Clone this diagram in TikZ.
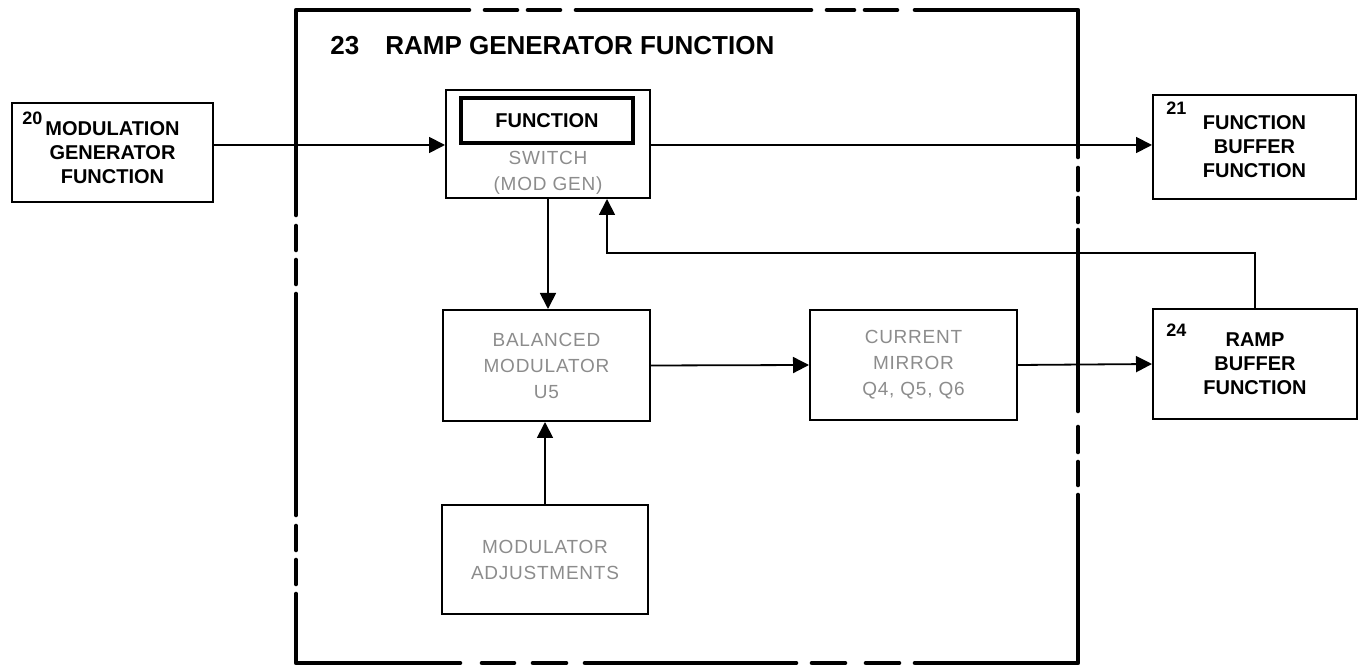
\documentclass[tikz,border=0pt]{standalone}
\usepackage{fontspec}
\setmainfont{Liberation Sans}
\usetikzlibrary{positioning, arrows.meta, calc}

\begin{document}
\begin{tikzpicture}[x=0.5pt, y=-0.5pt,
    box/.style={draw, line width=1pt, inner sep=0pt, align=center},
    lbl/.style={font=\fontsize{10}{12}\selectfont\bfseries},
    dim/.style={text=black!45, font=\fontsize{9.5}{13}\selectfont\addfontfeature{LetterSpace=4}},
    num/.style={font=\fontsize{9}{10}\selectfont\bfseries, inner sep=0pt, anchor=west},
    arr/.style={-{Triangle[length=8pt, width=8pt]}, line width=0.9pt},
    frame/.style={line width=2.3pt, line cap=round, line join=round}]
\useasboundingbox (0,0) rectangle (1365,667);

% ramp generator frame (23)
\draw[frame] (296,215) -- (296,10) -- (469,10);
\draw[frame] (915,10) -- (1078,10) -- (1078,157);
\draw[frame] (1078,495) -- (1078,663) -- (915,663);
\draw[frame] (460,663) -- (296,663) -- (296,594);
\foreach \a/\b in {485/517, 528/560, 576/811, 827/854, 865/897}
    \draw[frame] (\a,10) -- (\b,10);
\foreach \a/\b in {482/514, 533/566, 585/796, 812/845, 866/899}
    \draw[frame] (\a,663) -- (\b,663);
\foreach \a/\b in {168/190, 198/222, 230/411, 427/452, 462/485}
    \draw[frame] (1078,\a) -- (1078,\b);
\foreach \a/\b in {226/250, 260/284, 294/515, 526/550, 560/584}
    \draw[frame] (296,\a) -- (296,\b);
\node[anchor=west, inner sep=0pt, font=\fontsize{13}{15}\selectfont\bfseries] (title) at (330,46) {23\quad RAMP GENERATOR FUNCTION};

% blocks
\node[box, lbl, minimum width=100.5pt, minimum height=49.5pt] (modgen) at (112.5,152.5) {MODULATION\\GENERATOR\\FUNCTION};
\node[num] (n20) at (22,118) {20};
\node[box, minimum width=102pt, minimum height=54pt] (swbox) at (548,144) {};
\node[box, lbl, line width=2pt, minimum width=86pt, minimum height=22.5pt] (fnbox) at (547,120.5) {FUNCTION};
\node[dim, align=center, inner sep=0pt] (swtxt) at (548,173) {SWITCH\\(MOD GEN)};
\node[box, lbl, minimum width=101.5pt, minimum height=52pt] (fbuf) at (1254.5,147) {FUNCTION\\BUFFER\\FUNCTION};
\node[num] (n21) at (1166,108) {21};
\node[box, dim, minimum width=103.5pt, minimum height=55.5pt] (balmod) at (546.5,365.5) {BALANCED\\MODULATOR\\U5};
\node[box, dim, minimum width=103.5pt, minimum height=55pt] (curmir) at (913.5,365) {CURRENT\\MIRROR\\Q4, Q5, Q6};
\node[box, lbl, minimum width=102pt, minimum height=55pt] (rbuf) at (1255,364) {RAMP\\BUFFER\\FUNCTION};
\node[num] (n24) at (1166,330) {24};
\node[box, dim, minimum width=103pt, minimum height=54.5pt] (adjust) at (545,559.5) {MODULATOR\\ADJUSTMENTS};

% signal paths
\coordinate (fbk) at (607,253);
\draw[arr] (modgen.east |- fnbox.south) -- (swbox.west |- fnbox.south);
\draw[arr] (swbox.east |- fnbox.south) -- (fbuf.west |- fnbox.south);
\draw[arr] (swbox.south) -- (swbox.south |- balmod.north);
\draw[arr] (adjust.north) -- (adjust.north |- balmod.south);
\draw[arr] (balmod.east) -- (curmir.west);
\draw[arr] (curmir.east) -- (rbuf.west);
\draw[arr] (rbuf.north) |- (fbk) -- (fbk |- swbox.south);
\end{tikzpicture}
\end{document}
